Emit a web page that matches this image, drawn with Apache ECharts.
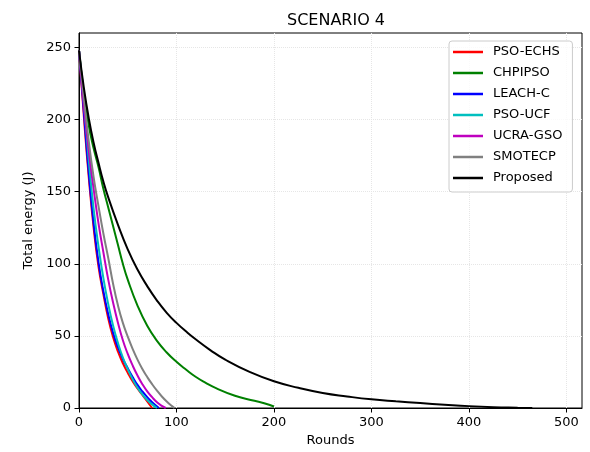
<!DOCTYPE html>
<html>
<head>
<meta charset="utf-8">
<script src="https://cdn.jsdelivr.net/npm/echarts@6/dist/echarts.min.js"></script>
<style>
  html, body { margin: 0; padding: 0; background: #fff; }
  #chart { width: 590px; height: 452px; }
</style>
</head>
<body>
<div id="chart"></div>
<script>
const xTicks = [0, 100, 200, 300, 400, 500]
const yTicks = [0, 50, 100, 150, 200, 250]

const echsRounds = [0, 5, 10, 15, 20, 25, 30, 35, 40, 45, 50, 55, 60, 65, 70, 75]
const echsEnergy = [248, 202, 160, 125, 98, 79, 62, 49, 39, 31, 24.5, 18.5, 13.5, 9, 4.5, 0]

const chpRounds = [0, 5, 10, 15, 20, 25, 30, 40, 45, 50, 60, 70, 80, 90, 100, 110, 120, 130, 140, 160, 180, 190, 200]
const chpEnergy = [248, 218, 196, 180, 167, 152, 139, 113, 100, 89, 71, 57, 46.5, 38.5, 32, 26.5, 21.5, 17.5, 14, 8.5, 5, 3.3, 1]

const leachRounds = [0, 5, 10, 15, 20, 25, 30, 35, 40, 45, 50, 55, 60, 65, 70, 75, 82]
const leachEnergy = [248, 205, 163, 128, 101, 81, 65, 52, 42, 34, 27.5, 21.5, 16, 11.5, 7.5, 4, 0]

const ucfRounds = [0, 5, 10, 15, 20, 25, 30, 35, 40, 45, 50, 55, 60, 65, 70, 75, 80]
const ucfEnergy = [248, 212, 172, 138, 112, 90, 72, 57, 45, 35, 27, 20, 14, 9.5, 5.5, 2.5, 0]

const gsoRounds = [0, 5, 10, 15, 20, 25, 30, 35, 40, 45, 50, 55, 60, 65, 70, 75, 80, 85, 89]
const gsoEnergy = [248, 210, 178, 152, 128, 108, 89, 73, 59, 47, 37.5, 29.5, 22.5, 16.5, 11.5, 7.5, 4, 1.5, 0]

const smoRounds = [0, 5, 10, 15, 20, 25, 30, 35, 40, 45, 50, 55, 60, 65, 70, 75, 80, 85, 90, 95, 98]
const smoEnergy = [248, 215, 185, 160, 140, 121, 104, 86, 71, 59, 49.5, 41, 33.5, 27, 21.5, 16.5, 12, 8, 4.5, 1.5, 0]

const propRounds = [0, 5, 10, 15, 20, 25, 30, 40, 50, 60, 70, 80, 90, 100, 110, 120, 135, 150, 175, 200, 225, 250, 275, 300, 325, 350, 375, 400, 425, 450, 465]
const propEnergy = [248, 222, 201, 184, 170, 157, 146, 127, 110, 96, 84.5, 74.5, 66, 59, 53, 47.5, 40, 33.5, 25, 18.5, 14, 10.4, 8, 6, 4.6, 3.4, 2.3, 1.3, 0.6, 0.2, 0]

const seriesDefs = [
  { name: "PSO-ECHS", color: "#ff0000", x: echsRounds, y: echsEnergy },
  { name: "CHPIPSO", color: "#008000", x: chpRounds, y: chpEnergy },
  { name: "LEACH-C", color: "#0000ff", x: leachRounds, y: leachEnergy },
  { name: "PSO-UCF", color: "#00bfbf", x: ucfRounds, y: ucfEnergy },
  { name: "UCRA-GSO", color: "#bf00bf", x: gsoRounds, y: gsoEnergy },
  { name: "SMOTECP", color: "#808080", x: smoRounds, y: smoEnergy },
  { name: "Proposed", color: "#000000", x: propRounds, y: propEnergy }
]

const font = "DejaVu Sans"

const chart = echarts.init(document.getElementById("chart"), null, { renderer: "canvas" })

chart.setOption({
  animation: false,
  backgroundColor: "#fff",
  title: {
    text: "SCENARIO 4",
    left: 331,
    top: 8,
    textAlign: "center",
    textStyle: { fontFamily: font, fontSize: 16, fontWeight: "normal", color: "#000" }
  },
  grid: {
    left: 79, right: 8, top: 33, bottom: 44,
    show: true, borderColor: "#000", borderWidth: 1
  },
  legend: {
    orient: "vertical",
    left: 449,
    top: 41,
    width: 124,
    padding: [4, 10, 7, 4],
    itemGap: 7,
    itemWidth: 30,
    itemHeight: 2.5,
    icon: "rect",
    borderColor: "#cccccc",
    borderWidth: 1,
    borderRadius: 3,
    backgroundColor: "rgba(255,255,255,0.8)",
    textStyle: { fontFamily: font, fontSize: 13, color: "#000", lineHeight: 14, padding: [0, 0, 0, 5] },
    data: seriesDefs.map(s => s.name)
  },
  xAxis: {
    type: "value",
    min: 0,
    max: 516,
    interval: 100,
    name: "Rounds",
    nameLocation: "middle",
    nameGap: 26,
    nameTextStyle: { fontFamily: font, fontSize: 13, color: "#000" },
    axisLine: { show: true, lineStyle: { color: "#000" } },
    axisTick: { show: true, length: 4.5, lineStyle: { color: "#000" }, customValues: xTicks },
    axisLabel: { fontFamily: font, fontSize: 13, color: "#000", margin: 8, customValues: xTicks },
    splitLine: { show: true, lineStyle: { color: "#e6e6e6", type: "dotted" } }
  },
  yAxis: {
    type: "value",
    min: 0,
    max: 260,
    interval: 50,
    name: "Total energy (J)",
    nameLocation: "middle",
    nameGap: 44,
    nameTextStyle: { fontFamily: font, fontSize: 13, color: "#000" },
    axisLine: { show: true, lineStyle: { color: "#000" } },
    axisTick: { show: true, length: 4.5, lineStyle: { color: "#000" }, customValues: yTicks },
    axisLabel: { fontFamily: font, fontSize: 13, color: "#000", margin: 8, customValues: yTicks },
    splitLine: { show: true, lineStyle: { color: "#e6e6e6", type: "dotted" } }
  },
  series: seriesDefs.map(s => ({
    name: s.name,
    type: "line",
    showSymbol: false,
    symbol: "none",
    smooth: 0.5,
    color: s.color,
    lineStyle: { color: s.color, width: 2 },
    data: s.x.map((r, i) => [r, s.y[i]])
  }))
})
</script>
</body>
</html>
